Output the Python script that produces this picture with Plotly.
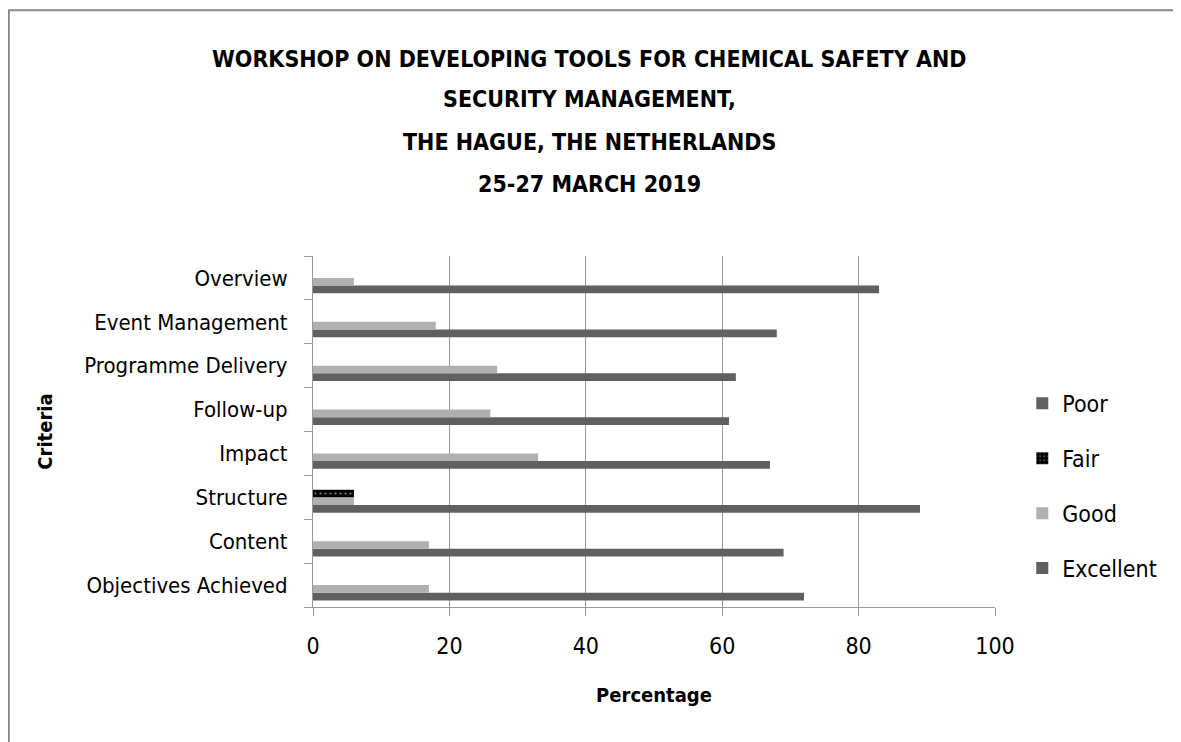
import plotly.graph_objects as go

criteria = ['Objectives Achieved', 'Content', 'Structure', 'Impact',
            'Follow-up', 'Programme Delivery', 'Event Management', 'Overview']
excellent = [72, 69, 89, 67, 61, 62, 68, 83]
good = [17, 17, 6, 33, 26, 27, 18, 6]
fair = [0, 0, 6, 0, 0, 0, 0, 0]
poor = [0, 0, 0, 0, 0, 0, 0, 0]

title_lines = ['WORKSHOP ON DEVELOPING TOOLS FOR CHEMICAL SAFETY AND',
               'SECURITY MANAGEMENT,',
               'THE HAGUE, THE NETHERLANDS',
               '25-27 MARCH 2019']

FONT = 'DejaVu Sans Condensed, DejaVu Sans, sans-serif'

fig = go.Figure()

fig.add_trace(go.Bar(y=criteria, x=excellent, name='Excellent', orientation='h',
                     marker=dict(color='#606060', line=dict(width=0)),
                     legendgroup='e', legendrank=4))
fig.add_trace(go.Bar(y=criteria, x=good, name='Good', orientation='h',
                     marker=dict(color='#b0b0b0', line=dict(width=0)),
                     legendgroup='g', legendrank=3))
fig.add_trace(go.Bar(y=criteria, x=fair, name='Fair', orientation='h',
                     marker=dict(color='black', line=dict(width=0),
                                 pattern=dict(shape='.', fgcolor='white',
                                              bgcolor='black', size=5,
                                              solidity=0.15)),
                     legendgroup='f', legendrank=2))
fig.add_trace(go.Bar(y=criteria, x=poor, name='Poor', orientation='h',
                     marker=dict(color='#606060', line=dict(width=0)),
                     legendgroup='p', legendrank=1))

# title as separate lines to match the line spacing
title_y = [1.562, 1.448, 1.325, 1.205]
for line, yy in zip(title_lines, title_y):
    fig.add_annotation(text=f'<b>{line}</b>', xref='paper', yref='paper',
                       x=0.405, y=yy, showarrow=False, xanchor='center',
                       yanchor='middle', font=dict(size=23, color='black', family=FONT))

# outer chart frame
fig.add_shape(type='rect', xref='paper', yref='paper',
              x0=-0.446, x1=1.3, y0=-0.45, y1=1.7,
              line=dict(color='#888888', width=2))

fig.update_layout(
    width=1181, height=742,
    paper_bgcolor='white', plot_bgcolor='white',
    margin=dict(l=305, r=194, t=248, b=143),
    barmode='group', bargap=0.3, bargroupgap=0,
    font=dict(family=FONT, size=22, color='black'),
    showlegend=True,
    legend=dict(x=1.04, y=0.345, xanchor='left', yanchor='middle',
                traceorder='grouped', tracegroupgap=22, itemwidth=30,
                font=dict(size=23, family=FONT)),
    xaxis=dict(range=[0, 100], dtick=20, showgrid=True, gridcolor='#999999',
               gridwidth=1, showline=True, linecolor='#999999', ticks='outside',
               ticklen=8, tickcolor='#999999', zeroline=False,
               ticklabelstandoff=10, tickfont=dict(size=23),
               title=dict(text='<b>Percentage</b>', font=dict(size=20), standoff=30)),
    yaxis=dict(type='category', showline=True, linecolor='#999999',
               ticks='outside', tickson='boundaries', ticklen=8,
               tickcolor='#999999', showgrid=False, ticklabelstandoff=20,
               title=dict(text='<b>Criteria</b>', font=dict(size=20), standoff=26)),
)

fig.write_html('out.html')
